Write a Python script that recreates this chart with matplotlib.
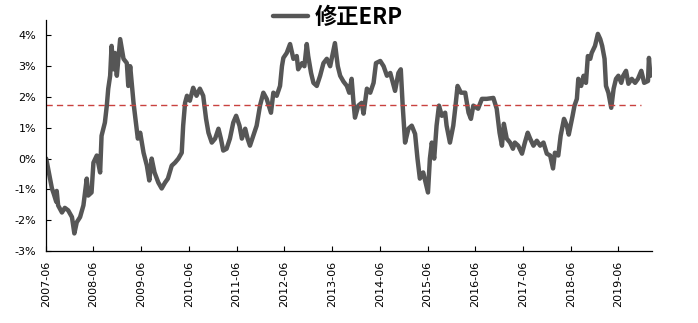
import matplotlib.pyplot as plt

# time axis: years elapsed since 2007-06
yrs = [0.01, 0.05, 0.13, 0.17, 0.22, 0.23, 0.26, 0.34, 0.40, 0.47, 0.55, 0.60, 0.65, 0.72, 0.79, 0.86, 0.89, 0.96,
       1.00, 1.07, 1.14, 1.17, 1.24, 1.28, 1.31, 1.35, 1.38, 1.42, 1.45, 1.49, 1.56, 1.63, 1.70, 1.73, 1.77, 1.84, 1.89, 1.93, 1.98,
       2.05, 2.12, 2.17, 2.22, 2.28, 2.36, 2.43, 2.50, 2.56, 2.64, 2.71, 2.78, 2.85, 2.88, 2.92, 2.96,
       3.02, 3.09, 3.16, 3.23, 3.30, 3.36, 3.41, 3.48, 3.55, 3.62, 3.67, 3.72, 3.79, 3.86, 3.93, 3.99,
       4.06, 4.11, 4.18, 4.23, 4.28, 4.35, 4.42, 4.49, 4.56, 4.63, 4.72, 4.77, 4.84, 4.91, 4.95, 4.98,
       5.05, 5.12, 5.19, 5.26, 5.29, 5.37, 5.42, 5.47, 5.50, 5.56, 5.61, 5.68, 5.75, 5.82, 5.89, 5.96,
       6.06, 6.12, 6.17, 6.24, 6.31, 6.36, 6.41, 6.45, 6.48, 6.55, 6.62, 6.66, 6.73, 6.80, 6.87, 6.92,
       7.01, 7.08, 7.15, 7.22, 7.32, 7.39, 7.44, 7.48, 7.53, 7.60, 7.67, 7.74, 7.79, 7.84, 7.91,
       8.01, 8.05, 8.09, 8.14, 8.19, 8.24, 8.30, 8.37, 8.40, 8.47, 8.54, 8.58, 8.63, 8.70, 8.79, 8.86, 8.91, 8.96,
       9.06, 9.14, 9.24, 9.38, 9.45, 9.51, 9.56, 9.60, 9.66, 9.73, 9.79, 9.83, 9.90, 9.98,
       10.04, 10.10, 10.15, 10.22, 10.29, 10.36, 10.43, 10.50, 10.57, 10.63, 10.67, 10.74, 10.79, 10.86, 10.92, 10.96,
       11.04, 11.08, 11.13, 11.16, 11.22, 11.27, 11.32, 11.36, 11.41, 11.44, 11.51, 11.57, 11.62, 11.66, 11.71, 11.74,
       11.79, 11.85, 11.90, 11.95,
       12.00, 12.06, 12.10, 12.16, 12.21, 12.28, 12.35, 12.41, 12.48, 12.54, 12.62, 12.64, 12.67]

# adjusted equity risk premium, %
erp = [0.00, -0.32, -0.97, -1.15, -1.40, -1.05, -1.52, -1.75, -1.60, -1.68, -1.90, -2.43, -2.07, -1.90, -1.52, -0.65, -1.20, -1.10,
       -0.13, 0.10, -0.45, 0.74, 1.17, 1.72, 2.27, 2.69, 3.66, 2.90, 3.43, 2.69, 3.88, 3.24, 3.10, 2.36, 3.00, 1.81, 1.17, 0.65, 0.84,
       0.19, -0.23, -0.71, 0.00, -0.45, -0.78, -0.97, -0.78, -0.65, -0.23, -0.13, 0.00, 0.19, 1.07, 1.81, 2.04,
       1.88, 2.30, 2.04, 2.27, 2.04, 1.29, 0.84, 0.52, 0.65, 0.97, 0.65, 0.26, 0.32, 0.65, 1.17, 1.39,
       1.07, 0.65, 0.97, 0.65, 0.42, 0.74, 1.07, 1.72, 2.14, 1.94, 1.49, 2.14, 2.04, 2.36, 3.00, 3.27,
       3.43, 3.72, 3.24, 3.33, 2.90, 3.10, 3.00, 3.72, 3.33, 2.78, 2.46, 2.36, 2.69, 3.10, 3.24, 3.00,
       3.75, 3.00, 2.69, 2.50, 2.36, 2.14, 2.59, 1.81, 1.33, 1.72, 1.81, 1.46, 2.27, 2.14, 2.46, 3.10,
       3.17, 3.00, 2.69, 2.78, 2.20, 2.78, 2.90, 1.72, 0.52, 0.97, 1.07, 0.80, 0.00, -0.65, -0.45,
       -1.10, 0.00, 0.52, 0.00, 1.07, 1.72, 1.39, 1.49, 1.07, 0.52, 1.07, 1.62, 2.36, 2.14, 2.14, 1.49, 1.29, 1.72,
       1.62, 1.94, 1.94, 1.97, 1.62, 0.84, 0.42, 1.13, 0.65, 0.52, 0.32, 0.52, 0.42, 0.16,
       0.52, 0.84, 0.65, 0.42, 0.58, 0.42, 0.52, 0.16, 0.10, -0.32, 0.19, 0.10, 0.74, 1.29, 1.07, 0.78,
       1.39, 1.72, 1.94, 2.59, 2.36, 2.69, 2.46, 3.33, 3.24, 3.43, 3.66, 4.05, 3.88, 3.66, 3.24, 2.36,
       2.14, 1.65, 2.27, 2.59,
       2.69, 2.46, 2.69, 2.85, 2.43, 2.59, 2.46, 2.59, 2.85, 2.46, 2.52, 3.27, 2.69]

# long-run average and the last date it is drawn to
mean_erp = 1.73
mean_end = 12.47

tick_labels = ['2007-06', '2008-06', '2009-06', '2010-06', '2011-06', '2012-06', '2013-06',
               '2014-06', '2015-06', '2016-06', '2017-06', '2018-06', '2019-06']
y_ticks = [-3, -2, -1, 0, 1, 2, 3, 4]

plt.rcParams['font.family'] = ['DejaVu Sans', 'Noto Sans CJK SC']

fig = plt.figure(figsize=(6.98, 3.23), dpi=100)
ax = fig.add_axes([0.0655, 0.223, 0.869, 0.715])

ax.plot(yrs, erp, color='#565656', lw=3.2, solid_joinstyle='round', solid_capstyle='round', label='修正ERP')
ax.plot([0, mean_end], [mean_erp, mean_erp], color='#c9423f', lw=1.0, dashes=(4.5, 3))

ax.set_xlim(0, 12.71)
ax.set_ylim(-3, 4.5)
ax.set_xticks(range(len(tick_labels)))
ax.set_xticklabels(tick_labels, rotation=90, fontsize=8)
ax.set_yticks(y_ticks)
ax.set_yticklabels([f'{v}%' for v in y_ticks], fontsize=8)
ax.tick_params(direction='in', length=3.5, width=0.8, pad=7, colors='black')

for side in ['top', 'right']:
    ax.spines[side].set_visible(False)
for side in ['left', 'bottom']:
    ax.spines[side].set_linewidth(0.9)

ax.legend(loc='lower center', bbox_to_anchor=(0.482, 0.96), frameon=False,
          prop={'family': 'Noto Sans CJK SC', 'weight': 'bold', 'size': 16},
          handlelength=1.6, handletextpad=0.3, borderaxespad=0, borderpad=0)

fig.savefig('out.png', dpi=100)
